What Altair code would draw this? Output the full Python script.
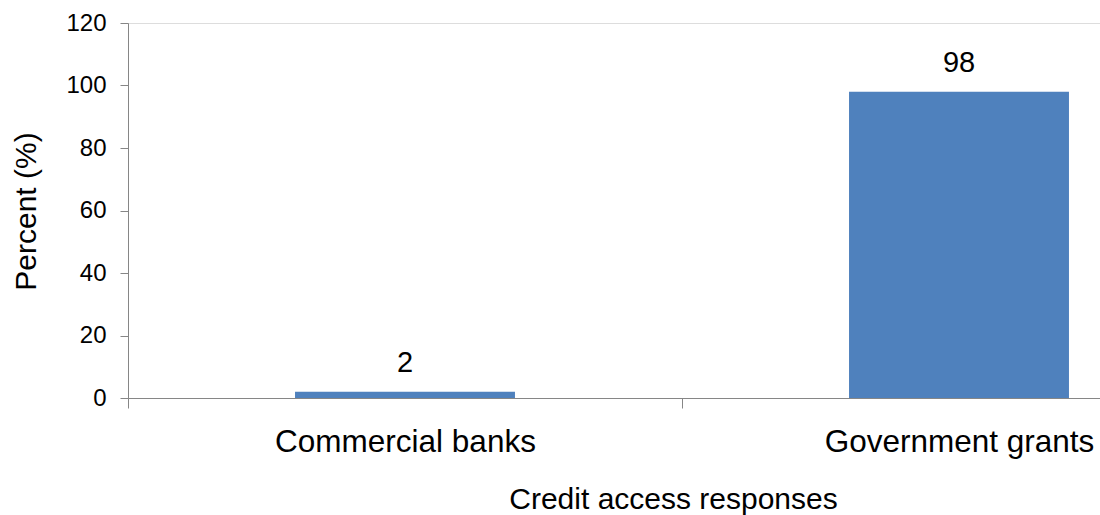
import altair as alt
import pandas as pd

# Survey responses on sources of credit access
categories = ["Commercial banks", "Government grants"]
percents = [2, 98]
y_ticks = [0, 20, 40, 60, 80, 100, 120]

df = pd.DataFrame({"source": categories, "percent": percents})

FONT = "Liberation Sans"
BAR_COLOR = "#4F81BD"
AXIS_COLOR = "#868686"
STEP = 554  # width of one category slot in pixels

x_enc = alt.X(
    "source:N",
    sort=categories,
    scale=alt.Scale(range=[0, 2 * STEP], paddingInner=0.603, paddingOuter=0.3015),
    axis=alt.Axis(
        title="Credit access responses",
        labelAngle=0,
        labelFontSize=31.5,
        labelFont=FONT,
        labelColor="#000000",
        labelPadding=18,
        labelLimit=0,
        # ticks sit on the category boundaries, labels stay centred
        tickOffset=-STEP / 2,
        labelOffset=STEP / 2,
        tickSize=10,
        tickColor=AXIS_COLOR,
        domainColor=AXIS_COLOR,
        titleFont=FONT,
        titleFontSize=30,
        titleFontWeight="normal",
        titleColor="#000000",
        titleBaseline="alphabetic",
        titleAlign="center",
        titleX=545,
        titleY=110,
        grid=False,
    ),
)

y_enc = alt.Y(
    "percent:Q",
    scale=alt.Scale(domain=[0, 120], nice=False),
    axis=alt.Axis(
        title="Percent (%)",
        values=y_ticks,
        labelFontSize=24,
        labelFont=FONT,
        labelColor="#000000",
        labelPadding=14,
        tickSize=8,
        tickColor=AXIS_COLOR,
        domainColor=AXIS_COLOR,
        titleFont=FONT,
        titleFontSize=30,
        titleFontWeight="normal",
        titleColor="#000000",
        titleAngle=270,
        titleBaseline="alphabetic",
        titleAlign="center",
        titleX=-93,
        titleY=188,
        grid=False,
    ),
)

bars = alt.Chart(df).mark_bar(color=BAR_COLOR).encode(x=x_enc, y=y_enc)

labels = alt.Chart(df).mark_text(
    font=FONT, fontSize=29, color="#000000", baseline="alphabetic", dy=-20
).encode(
    x=alt.X("source:N", sort=categories),
    y=alt.Y("percent:Q"),
    text=alt.Text("percent:Q"),
)

chart = (
    alt.layer(bars, labels)
    .properties(
        width=972,
        height=375,
        autosize=alt.AutoSizeParams(type="none"),
        padding={"left": 128, "top": 23, "right": 0, "bottom": 117},
    )
    .configure_view(stroke=None)
    .configure(background="white")
)

chart.save("out.html", embed_options={"renderer": "svg", "actions": False})
